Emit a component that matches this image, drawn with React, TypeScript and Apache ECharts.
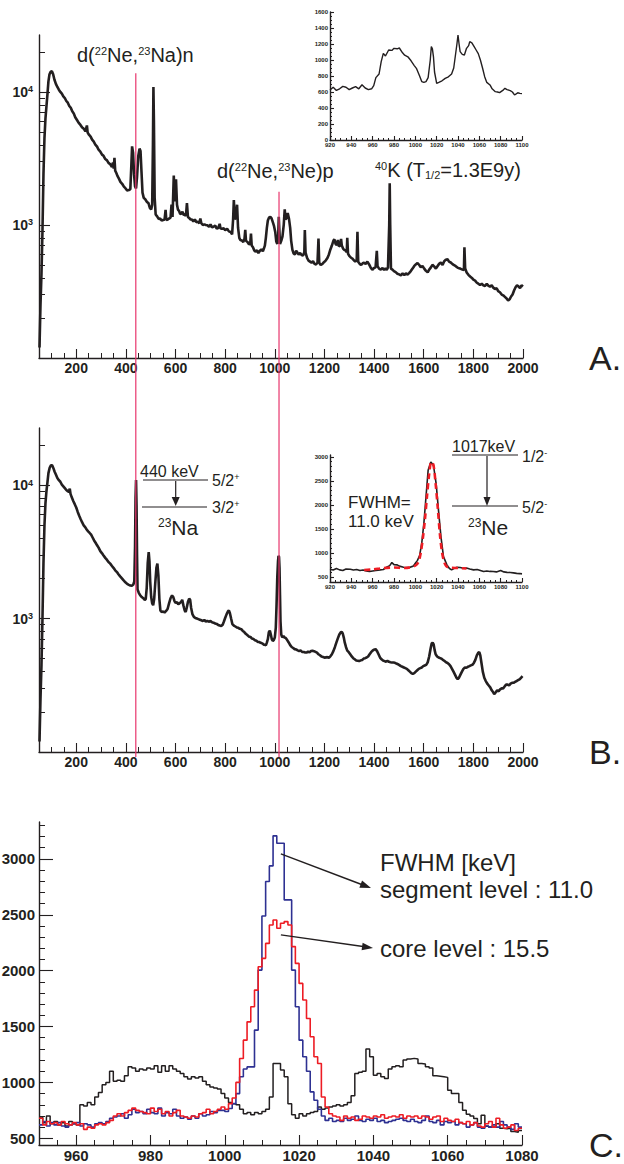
import React, { useEffect, useRef } from "react";
import * as echarts from "echarts";

const FONT = "'Liberation Sans', Arial, Helvetica, sans-serif";
const INK = "#231f20";
const MARKER = "#e8356c";
const SEGMENT_BLUE = "#2e3192";
const CORE_RED = "#ed1c24";

// Panel A: gamma spectrum, [energy keV, counts]
const spectrumA: number[][] = [
  [52,120],[56,250],[60,430],[64,900],[68,2400],[72,4500],[76,6300],[80,7800],[84,9600],[88,12000],[92,13500],[97,14200],[102,14300],[107,13600],[112,12400],[118,11500],[124,10900],[130,10400],[136,10000],[142,9700],[148,9250],[154,9000],[160,8550],[166,8300],[172,7850],[178,7600],[184,7150],[190,6900],[196,6450],[203,6150],[210,5850],[217,5650],[224,5400],[230,5300],[237,5050],[243,5600],[246,4950],[252,4750],[258,4620],[264,4380],[270,4250],[277,4020],[284,3880],[290,3680],[297,3560],[304,3380],[310,3310],[317,3130],[324,3060],[330,2930],[337,2860],[344,2730],[348,2950],[351,2650],[354,3200],[357,2560],[362,2450],[366,2340],[372,2230],[378,2110],[385,2040],[392,1940],[398,1890],[405,1820],[412,1830],[418,1860],[422,2800],[425,3900],[429,3500],[433,2400],[437,1950],[441,1880],[445,2300],[450,3300],[455,3750],[459,3600],[463,2500],[467,1750],[472,1600],[478,1560],[485,1490],[491,1460],[497,1340],[502,1310],[506,1420],[509,4000],[511,10900],[513,6000],[516,1600],[520,1200],[526,1160],[532,1110],[538,1120],[544,1080],[550,1090],[556,1100],[560,1300],[563,1090],[569,1100],[575,1120],[580,1140],[584,1420],[588,1150],[593,2350],[597,1500],[602,2200],[606,1420],[610,1300],[614,1280],[619,1210],[624,1220],[628,1260],[633,1190],[638,1200],[642,1170],[646,1460],[650,1150],[655,1130],[660,1100],[666,1100],[672,1060],[678,1100],[684,1050],[690,1060],[696,1030],[700,1120],[704,1030],[710,1000],[716,1010],[722,1000],[728,995],[735,970],[741,1010],[747,960],[753,970],[760,990],[766,940],[772,950],[778,1020],[781,945],[787,935],[794,945],[800,915],[808,935],[815,895],[822,885],[828,850],[832,1100],[835,1540],[839,1100],[843,1150],[848,1420],[852,950],[857,800],[861,770],[867,765],[873,745],[878,790],[881,920],[884,760],[890,745],[896,715],[901,725],[904,860],[907,700],[912,680],[917,645],[922,630],[928,645],[934,615],[940,640],[946,655],[952,635],[956,665],[960,700],[964,800],[968,950],[972,1080],[977,1140],[982,1150],[987,1120],[992,1050],[997,980],[1002,880],[1006,750],[1010,720],[1014,850],[1016,1150],[1018,950],[1021,720],[1026,760],[1031,820],[1036,1000],[1040,1310],[1043,1100],[1047,1120],[1052,1230],[1057,1120],[1062,950],[1066,760],[1071,650],[1076,610],[1081,600],[1086,640],[1091,620],[1096,600],[1102,615],[1108,595],[1114,590],[1119,625],[1121,915],[1124,620],[1130,565],[1136,540],[1142,530],[1148,520],[1154,535],[1160,510],[1166,505],[1172,520],[1176,790],[1179,520],[1185,500],[1192,510],[1198,525],[1205,540],[1212,565],[1218,600],[1224,655],[1230,700],[1236,760],[1240,780],[1245,720],[1250,705],[1254,770],[1258,690],[1263,700],[1267,785],[1270,700],[1275,665],[1280,650],[1286,640],[1290,625],[1292,800],[1295,610],[1300,585],[1306,570],[1312,560],[1318,545],[1324,530],[1330,545],[1333,890],[1336,530],[1342,510],[1348,500],[1354,515],[1360,520],[1366,510],[1373,530],[1380,505],[1386,480],[1393,460],[1400,475],[1406,480],[1411,640],[1414,490],[1420,470],[1427,462],[1434,475],[1440,460],[1446,472],[1451,460],[1456,480],[1461,1000],[1463,2060],[1465,1000],[1468,470],[1474,462],[1480,450],[1487,442],[1494,430],[1501,425],[1508,418],[1515,432],[1522,420],[1528,432],[1535,424],[1541,435],[1548,450],[1555,470],[1562,492],[1568,505],[1575,518],[1582,500],[1588,482],[1595,492],[1602,470],[1609,452],[1616,440],[1622,462],[1629,480],[1635,502],[1642,488],[1649,470],[1656,492],[1662,510],[1669,522],[1676,500],[1682,532],[1689,548],[1696,552],[1702,530],[1709,522],[1716,508],[1722,500],[1729,490],[1736,478],[1743,472],[1749,468],[1756,462],[1762,458],[1764,680],[1767,470],[1773,440],[1780,422],[1787,410],[1794,400],[1800,388],[1807,382],[1814,368],[1820,362],[1827,354],[1834,362],[1840,352],[1847,348],[1854,362],[1860,350],[1867,344],[1874,352],[1880,338],[1887,330],[1894,334],[1900,318],[1907,312],[1914,300],[1920,296],[1927,288],[1934,280],[1940,270],[1946,276],[1952,290],[1958,300],[1964,322],[1970,340],[1976,352],[1982,345],[1988,335],[1994,352],[2000,345]
];

// Panel B: gamma spectrum gated on the particle, [energy keV, counts]
const spectrumB: number[][] = [
  [52,120],[56,250],[60,450],[64,1000],[68,2600],[72,5000],[76,7300],[80,9000],[84,10500],[88,12300],[93,13500],[98,14100],[103,14100],[108,13400],[113,12600],[118,12000],[124,11300],[130,10900],[136,10600],[142,10100],[148,9800],[154,9500],[160,9200],[166,9000],[170,8900],[174,9400],[177,8600],[182,8100],[188,7600],[194,7200],[200,6800],[206,6300],[212,5900],[218,5550],[224,5250],[230,5000],[236,4850],[242,4650],[248,4500],[254,4380],[260,4250],[266,4050],[272,3850],[278,3700],[284,3540],[290,3400],[297,3200],[304,3080],[310,2970],[317,2850],[324,2750],[330,2650],[337,2580],[344,2480],[350,2400],[357,2300],[364,2230],[370,2150],[377,2070],[384,2000],[391,1930],[398,1870],[405,1820],[412,1790],[418,1770],[424,1760],[430,1800],[434,1900],[437,3500],[439,8000],[441,10900],[443,7000],[445,3000],[447,1650],[452,1560],[458,1490],[464,1450],[470,1420],[476,1380],[480,1400],[484,1700],[488,2600],[492,3150],[495,2700],[498,1900],[502,1450],[506,1300],[510,1260],[514,1400],[518,1800],[523,2400],[527,2580],[531,2100],[535,1400],[539,1150],[544,1120],[550,1130],[556,1110],[562,1140],[568,1180],[574,1300],[580,1420],[586,1490],[591,1450],[596,1350],[601,1310],[606,1330],[611,1280],[616,1300],[622,1330],[627,1380],[632,1250],[637,1150],[641,1120],[645,1200],[650,1330],[655,1410],[659,1380],[663,1200],[668,1080],[674,1030],[680,1010],[686,1000],[692,990],[698,980],[704,970],[710,960],[716,975],[722,950],[728,962],[734,948],[741,958],[747,938],[753,932],[760,918],[766,912],[772,895],[778,886],[784,880],[790,900],[795,950],[800,1010],[806,1080],[811,1130],[815,1150],[819,1100],[824,1000],[829,910],[835,886],[841,872],[847,858],[853,852],[859,838],[865,832],[871,808],[877,792],[883,768],[889,752],[896,732],[902,728],[908,708],[914,702],[920,688],[926,682],[932,668],[938,667],[943,658],[949,652],[955,638],[960,637],[964,630],[968,660],[972,700],[976,790],[980,813],[984,760],[988,700],[992,680],[996,690],[1000,720],[1004,850],[1007,1250],[1010,2040],[1013,2700],[1015,2950],[1017,2900],[1019,2400],[1021,1500],[1023,950],[1026,760],[1030,725],[1035,740],[1040,720],[1044,715],[1050,690],[1056,662],[1062,632],[1068,612],[1074,602],[1080,590],[1086,587],[1092,578],[1098,572],[1104,576],[1110,563],[1116,561],[1122,558],[1128,556],[1134,566],[1140,558],[1146,571],[1152,574],[1158,570],[1164,563],[1170,556],[1176,540],[1182,531],[1188,519],[1194,516],[1200,509],[1206,512],[1212,514],[1218,509],[1224,521],[1230,540],[1236,570],[1242,610],[1248,660],[1254,710],[1260,760],[1266,790],[1270,795],[1274,770],[1278,720],[1282,660],[1287,610],[1292,575],[1298,560],[1304,540],[1310,520],[1316,505],[1322,495],[1328,485],[1334,483],[1340,480],[1346,486],[1352,490],[1358,501],[1364,505],[1370,511],[1376,520],[1382,540],[1388,560],[1394,575],[1400,585],[1406,590],[1412,570],[1418,540],[1424,510],[1430,495],[1436,485],[1442,480],[1448,475],[1454,481],[1460,474],[1466,471],[1472,469],[1478,468],[1484,466],[1490,460],[1496,455],[1502,448],[1508,440],[1514,435],[1520,430],[1526,425],[1532,420],[1538,410],[1544,400],[1550,390],[1556,385],[1562,390],[1568,400],[1574,410],[1580,420],[1586,425],[1592,430],[1598,440],[1604,445],[1610,450],[1616,470],[1622,520],[1628,600],[1632,650],[1636,660],[1640,640],[1644,580],[1648,540],[1654,520],[1660,510],[1666,505],[1672,500],[1678,490],[1684,480],[1690,470],[1696,465],[1702,455],[1708,440],[1714,420],[1720,400],[1726,380],[1732,360],[1737,352],[1742,360],[1748,380],[1754,400],[1760,420],[1766,430],[1772,428],[1778,435],[1784,440],[1790,446],[1796,450],[1802,465],[1808,490],[1814,530],[1820,555],[1824,560],[1828,530],[1833,460],[1838,400],[1844,360],[1850,340],[1856,325],[1862,315],[1868,305],[1874,290],[1880,280],[1884,272],[1890,280],[1896,290],[1902,285],[1908,295],[1914,300],[1920,300],[1926,310],[1932,320],[1938,320],[1944,315],[1950,325],[1956,330],[1962,330],[1968,335],[1974,340],[1980,345],[1986,350],[1992,360],[1998,370]
];

// Inset of panel A: 920-1100 keV region, [keV, counts]
const insetA: number[][] = [
  [920,625],[923,660],[926,620],[929,640],[932,670],[935,660],[938,630],[941,650],[944,667],[947,640],[950,690],[953,650],[956,630],[959,640],[961,680],[963,780],[966,825],[968,980],[970,1083],[972,1050],[975,1125],[978,1120],[980,1146],[983,1140],[985,1150],[988,1090],[990,1060],[993,1040],[996,990],[999,930],[1001,896],[1004,800],[1006,730],[1008,720],[1010,730],[1012,780],[1014,1000],[1015,1167],[1016,1140],[1017,1040],[1018,850],[1020,708],[1022,720],[1025,740],[1028,770],[1031,790],[1034,825],[1036,900],[1037,1000],[1039,1200],[1040,1312],[1041,1200],[1042,1104],[1044,1070],[1046,1062],[1048,1146],[1050,1180],[1051,1230],[1053,1215],[1055,1170],[1057,1125],[1059,1080],[1061,1000],[1063,900],[1065,792],[1067,720],[1070,688],[1072,640],[1075,604],[1077,600],[1079,592],[1082,620],[1084,646],[1086,630],[1089,617],[1091,600],[1093,563],[1096,590],[1098,583],[1100,580]
];

// Inset of panel B: 920-1100 keV region and the peak fit, [keV, counts]
const insetB: number[][] = [
  [920,666],[923,650],[926,680],[929,652],[932,640],[935,670],[939,666],[942,650],[945,660],[948,638],[951,650],[954,630],[957,617],[960,630],[963,640],[967,652],[970,660],[973,707],[976,740],[978,804],[980,760],[983,755],[985,730],[989,707],[992,700],[995,707],[998,730],[1000,790],[1002,850],[1004,950],[1006,1204],[1008,1619],[1010,2171],[1012,2724],[1014.5,2896],[1017,2827],[1019.5,2447],[1021.7,1895],[1024,1343],[1026.4,928],[1029.6,755],[1032,680],[1034,652],[1037,690],[1039,707],[1042,700],[1045,686],[1048,690],[1051,670],[1054.6,652],[1058,660],[1061,640],[1064,617],[1067,630],[1070,620],[1073,617],[1076,610],[1080,638],[1083,610],[1086,600],[1089,597],[1092,590],[1095,580],[1098,575],[1100,569]
];
const insetBFit: number[][] = [
  [952,650],[960,660],[970,690],[980,700],[990,690],[1000,740],[1003,820],[1005,1000],[1007,1300],[1009,1700],[1011,2200],[1013,2650],[1015,2900],[1017,2830],[1019,2450],[1021,1950],[1023,1400],[1025,1020],[1027,820],[1029,730],[1032,700],[1040,690],[1048,680]
];

// Panel C: 1 keV bins starting at 950 keV
const zoomStart = 950;
const zoomBlack = [
  690,640,700,630,650,620,640,610,650,630,
  620,800,790,820,800,870,910,980,1000,1100,
  1010,1020,1010,1060,1140,1130,1100,1120,1110,1130,
  1120,1150,1090,1150,1100,1150,1120,1100,1080,1050,
  1030,1050,1040,1050,1010,980,960,950,940,900,
  860,820,810,800,760,720,730,710,730,720,
  740,760,870,1170,1170,1110,1050,810,710,680,
  720,700,720,730,740,780,760,770,780,790,
  800,790,800,820,880,1080,1090,1100,1300,1230,
  1065,1080,1050,1035,1120,1140,1150,1140,1200,1210,
  1215,1210,1170,1165,1140,1130,1060,1055,1050,1045,
  930,900,900,820,750,715,700,676,630,706,
  607,600,600,630,590,585,590,560,555,570
];
const zoomSegment = [
  620,650,610,640,620,640,610,600,620,630,
  640,610,630,620,600,630,640,630,650,680,
  690,700,720,680,710,760,730,740,720,760,
  730,720,770,700,730,720,760,700,680,690,
  670,700,680,720,700,710,740,730,750,750,
  740,766,810,900,1050,1120,1139,1139,1468,2005,
  2489,2797,2937,3206,3140,3140,2633,2633,2005,1677,
  1378,1229,1100,915,840,760,700,660,680,650,
  660,650,680,660,670,700,660,650,670,660,
  680,650,660,640,650,660,670,680,660,650,
  670,650,640,660,700,650,640,660,620,650,
  640,650,620,640,630,600,620,640,600,590,
  610,600,620,600,650,620,600,580,630,600
];
const zoomCore = [
  680,620,650,630,640,620,650,630,620,640,
  620,630,580,600,590,620,630,620,640,660,
  700,720,700,730,750,770,750,740,730,720,
  770,740,760,720,740,700,730,750,700,690,
  680,700,690,720,730,760,720,740,760,780,
  760,810,860,1000,1214,1378,1542,1677,1826,2035,
  2110,2244,2409,2453,2379,2424,2439,2409,2215,2065,
  1886,1737,1572,1408,1229,1169,870,780,720,700,
  690,660,700,680,690,660,670,700,690,680,
  700,690,710,680,690,700,690,710,680,700,
  690,700,680,700,690,670,690,700,650,680,
  660,650,670,640,630,650,620,640,610,600,
  630,650,600,680,620,590,600,620,570,590
];

// Tick values
const fullXTicks = [200, 400, 600, 800, 1000, 1200, 1400, 1600, 1800, 2000];
const logMajor = [1000, 10000];
const logMinor = [200, 300, 400, 500, 600, 700, 800, 900, 2000, 3000, 4000, 5000, 6000, 7000, 8000, 9000, 20000];
const insetXTicks = [920, 940, 960, 980, 1000, 1020, 1040, 1060, 1080, 1100];
const insetAYTicks = [0, 200, 400, 600, 800, 1000, 1200, 1400, 1600];
const insetBYTicks = [500, 1000, 1500, 2000, 2500, 3000];
const zoomXTicks = [960, 980, 1000, 1020, 1040, 1060, 1080];
const zoomYTicks = [500, 1000, 1500, 2000, 2500, 3000];

// Marker energies for the two transitions
const markerNa = 440;
const markerNe = 1017;

function steps(from: number, to: number, step: number) {
  const out: number[] = [];
  for (let v = from; v <= to + 1e-9; v += step) out.push(v);
  return out;
}

function histogram(values: number[]) {
  const pts = values.map((v, i) => [zoomStart + i, v]);
  pts.push([zoomStart + values.length, values[values.length - 1]]);
  return pts;
}

type Label = { size: number; margin: number; formatter?: any; rich?: any };

const plain = (v: number) => String(Math.round(v));

function addAxis(list: any[], dim: "x" | "y", grid: number, type: string, min: number, max: number,
  major: number[], minor: number[], majorLen: number, minorLen: number, label: Label) {
  const common: any = {
    gridIndex: grid, type, min, max, position: dim === "x" ? "bottom" : "left",
    splitLine: { show: false }, splitArea: { show: false }, minorTick: { show: false },
    minorSplitLine: { show: false }, silent: true,
  };
  if (type === "log") common.logBase = 10;
  const idx = list.length;
  list.push({
    ...common,
    axisLine: { show: true, onZero: false, lineStyle: { color: INK, width: 1.4 } },
    axisTick: { show: true, inside: true, length: majorLen, customValues: major, lineStyle: { color: INK, width: 1.1 } },
    axisLabel: {
      show: true, customValues: major, margin: label.margin, fontSize: label.size, fontWeight: "bold",
      fontFamily: FONT, color: INK, formatter: label.formatter || plain, rich: label.rich, hideOverlap: false,
    },
  });
  list.push({
    ...common,
    axisLine: { show: false, onZero: false },
    axisTick: { show: true, inside: true, length: minorLen, customValues: minor, lineStyle: { color: INK, width: 1 } },
    axisLabel: { show: false },
  });
  return idx;
}

const powLabel = {
  size: 14, margin: 6,
  formatter: (v: number) => `{b|10}{s|${Math.round(Math.log10(v))}}`,
  rich: {
    b: { fontSize: 14, fontWeight: "bold", fontFamily: FONT, color: INK },
    s: { fontSize: 9, fontWeight: "bold", fontFamily: FONT, color: INK, verticalAlign: "top" },
  },
};

function buildOption() {
  const xAxes: any[] = [];
  const yAxes: any[] = [];
  const grid = (left: number, top: number, width: number, height: number) =>
    ({ left, top, width, height, containLabel: false, outerBoundsMode: "none", show: false });

  const ax = {
    A: addAxis(xAxes, "x", 0, "value", 50, 2000, fullXTicks, steps(50, 2000, 50), 9, 5, { size: 14, margin: 3 }),
    AI: addAxis(xAxes, "x", 1, "value", 920, 1100, insetXTicks, steps(920, 1100, 5), 4, 2, { size: 6, margin: 2 }),
    B: addAxis(xAxes, "x", 2, "value", 50, 2000, fullXTicks, steps(50, 2000, 50), 9, 5, { size: 14, margin: 3 }),
    BI: addAxis(xAxes, "x", 3, "value", 920, 1100, insetXTicks, steps(920, 1100, 5), 4, 2, { size: 6, margin: 2 }),
    C: addAxis(xAxes, "x", 4, "value", 950, 1080, zoomXTicks, steps(950, 1080, 5), 10, 5, { size: 15, margin: 3 }),
  };
  const ay = {
    A: addAxis(yAxes, "y", 0, "log", 100, 26800, logMajor, logMinor, 11, 6, powLabel),
    AI: addAxis(yAxes, "y", 1, "value", 0, 1600, insetAYTicks, steps(0, 1600, 50), 4, 2, { size: 6, margin: 2 }),
    B: addAxis(yAxes, "y", 2, "log", 100, 26800, logMajor, logMinor, 11, 6, powLabel),
    BI: addAxis(yAxes, "y", 3, "value", 400, 3040, insetBYTicks, steps(400, 3000, 100), 4, 2, { size: 6, margin: 2 }),
    C: addAxis(yAxes, "y", 4, "value", 440, 3330, zoomYTicks, steps(500, 3300, 100), 14, 6, { size: 15, margin: 4 }),
  };

  const line = (x: number, y: number, data: number[][], color: string, width: number, extra: any = {}) => ({
    type: "line", xAxisIndex: x, yAxisIndex: y, data, symbol: "none", showSymbol: false, silent: true,
    clip: true, lineStyle: { color, width }, emphasis: { disabled: true }, ...extra,
  });

  return {
    option: {
      animation: false,
      backgroundColor: "#ffffff",
      textStyle: { fontFamily: FONT },
      grid: [grid(39, 35, 484, 323), grid(330, 12, 192, 128), grid(39, 428, 484, 324), grid(330, 455, 192, 127), grid(39, 822, 483, 323)],
      xAxis: xAxes,
      yAxis: yAxes,
      series: [
        line(ax.A, ay.A, spectrumA, INK, 2.6),
        line(ax.AI, ay.AI, insetA, INK, 1.4),
        line(ax.B, ay.B, spectrumB, INK, 2.6),
        line(ax.BI, ay.BI, insetB, INK, 1.6),
        line(ax.BI, ay.BI, insetBFit, CORE_RED, 2.6, { smooth: 0.3, lineStyle: { color: CORE_RED, width: 2.6, type: [6, 4] }, z: 4 }),
        line(ax.C, ay.C, histogram(zoomBlack), INK, 1.5, { step: "end" }),
        line(ax.C, ay.C, histogram(zoomSegment), SEGMENT_BLUE, 1.6, { step: "end" }),
        line(ax.C, ay.C, histogram(zoomCore), CORE_RED, 1.6, { step: "end" }),
      ],
    },
    ax, ay,
  };
}

function text(x: number, y: number, content: string, fontSize: number, rich?: any) {
  return {
    type: "text", x, y, silent: true, z: 10,
    style: {
      text: content, fontSize, fontFamily: FONT, fill: INK,
      align: "left", verticalAlign: "middle", textAlign: "left", textVerticalAlign: "middle",
      rich,
    },
  };
}

function richSet(base: number, small: number) {
  return {
    s: { fontSize: small, fontFamily: FONT, fill: INK, color: INK, verticalAlign: "top" },
    d: { fontSize: small, fontFamily: FONT, fill: INK, color: INK, verticalAlign: "bottom" },
    m: { fontSize: base, fontFamily: FONT, fill: INK, color: INK },
  };
}

function hline(x1: number, x2: number, y: number, color = INK, width = 1.2) {
  return { type: "line", silent: true, z: 10, shape: { x1, y1: y, x2, y2: y }, style: { stroke: color, lineWidth: width } };
}

function arrow(from: number[], to: number[], headLen: number, halfWidth: number, width: number) {
  const dx = to[0] - from[0];
  const dy = to[1] - from[1];
  const len = Math.hypot(dx, dy);
  const ux = dx / len;
  const uy = dy / len;
  const bx = to[0] - ux * headLen;
  const by = to[1] - uy * headLen;
  return [
    { type: "line", silent: true, z: 10, shape: { x1: from[0], y1: from[1], x2: bx + ux * 1, y2: by + uy * 1 }, style: { stroke: INK, lineWidth: width } },
    { type: "polygon", silent: true, z: 10, shape: { points: [[to[0], to[1]], [bx - uy * halfWidth, by + ux * halfWidth], [bx + uy * halfWidth, by - ux * halfWidth]] }, style: { fill: INK } },
  ];
}

function buildGraphics(chart: echarts.ECharts, ax: any, ay: any) {
  const px = (xi: number, yi: number, p: number[]) => chart.convertToPixel({ xAxisIndex: xi, yAxisIndex: yi }, p) as number[];
  const bottomB = px(ax.B, ay.B, [1000, 100])[1] + 5;
  const na = px(ax.A, ay.A, [markerNa, 13800]);
  const ne = px(ax.A, ay.A, [markerNe, 1780]);
  const seg = px(ax.C, ay.C, [1015.1, 3045]);
  const core = px(ax.C, ay.C, [1015.1, 2320]);

  const elements: any[] = [
    { type: "line", silent: true, z: 9, shape: { x1: na[0], y1: na[1], x2: na[0], y2: bottomB }, style: { stroke: MARKER, lineWidth: 1.2 } },
    { type: "line", silent: true, z: 9, shape: { x1: ne[0], y1: ne[1], x2: ne[0], y2: bottomB }, style: { stroke: MARKER, lineWidth: 1.2 } },

    // Panel A labels
    text(77, 55, "d({s|22}Ne,{s|23}Na)n", 20, richSet(20, 11)),
    text(217, 171, "d({s|22}Ne,{s|23}Ne)p", 20, richSet(20, 11)),
    text(375, 170, "{s|40}K (T{d|1/2}=1.3E9y)", 20, richSet(20, 11)),
    text(589, 358, "A.", 34),

    // Panel B: 23Na level scheme
    text(140, 471.5, "440 keV", 16),
    hline(143, 208, 480),
    hline(142, 207, 507),
    ...arrow([175.7, 481], [175.7, 506], 9, 4, 1.2),
    text(212, 480.5, "5/2{s|+}", 16, richSet(16, 9)),
    text(212, 507.5, "3/2{s|+}", 16, richSet(16, 9)),
    text(158, 527.7, "{s|23}Na", 21, richSet(21, 12)),

    // Panel B inset: 23Ne level scheme and fit result
    text(452, 446.5, "1017keV", 16),
    hline(452, 518, 455),
    hline(452, 518, 506),
    ...arrow([487, 456], [487, 506], 9, 3.5, 1.2),
    text(522, 456.5, "1/2{s|-}", 16, richSet(16, 9)),
    text(522, 507.5, "5/2{s|-}", 16, richSet(16, 9)),
    text(468, 527.7, "{s|23}Ne", 21, richSet(21, 12)),
    text(348, 502, "FWHM=", 17),
    text(348, 521, "11.0 keV", 17),
    text(589, 752, "B.", 34),

    // Panel C
    text(380, 862.5, "FWHM [keV]", 24),
    text(380, 889.5, "segment level : 11.0", 24),
    text(380, 948.5, "core level : 15.5", 24),
    ...arrow(seg, [371, 888], 11, 3.8, 1.5),
    ...arrow(core, [373, 948], 11, 3.8, 1.5),
    text(589, 1145, "C.", 34),
  ];
  return { elements };
}

export default function App() {
  const ref = useRef<HTMLDivElement>(null);
  useEffect(() => {
    const el = ref.current;
    if (!el) return;
    const chart = echarts.init(el, null, { renderer: "svg" });
    const { option, ax, ay } = buildOption();
    chart.setOption(option as any);
    chart.setOption({ graphic: buildGraphics(chart, ax, ay) } as any);
    return () => chart.dispose();
  }, []);
  return (
    <div
      ref={ref}
      style={{ position: "absolute", left: 0, top: 0, width: 624, height: 1164, background: "#ffffff" }}
    />
  );
}
